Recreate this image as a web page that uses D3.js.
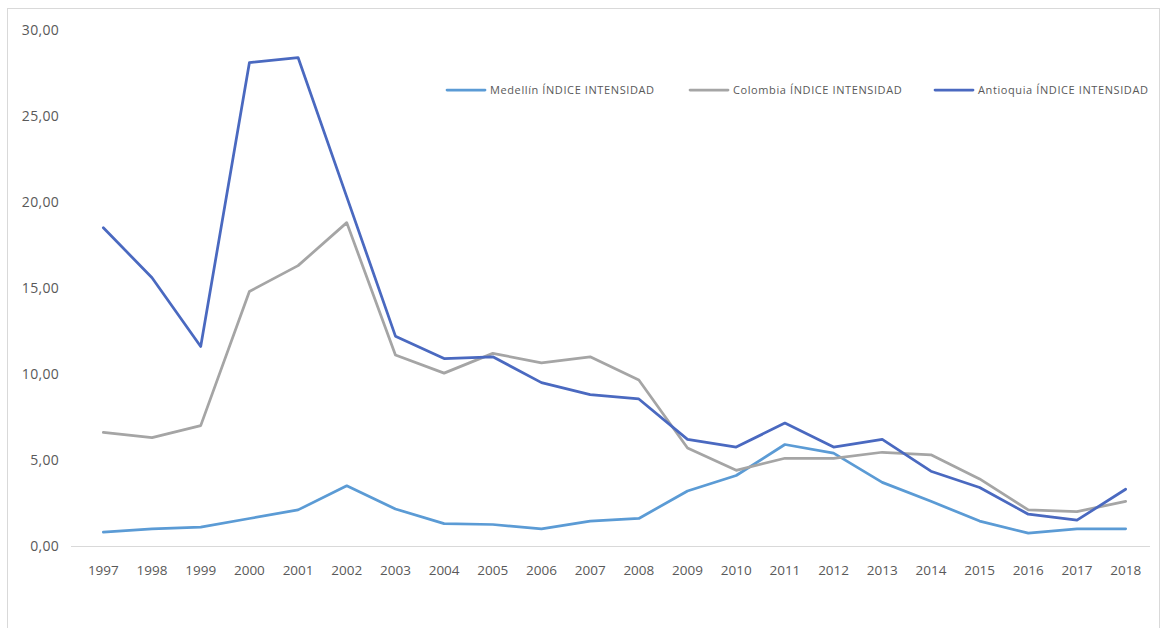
<!DOCTYPE html>
<html>
<head>
<meta charset="utf-8">
<script src="https://cdn.jsdelivr.net/npm/d3@7"></script>
<style>
  html, body { margin: 0; padding: 0; background: #fff; }
  svg { display: block; }
</style>
</head>
<body>
<svg id="chart" width="1161" height="628"></svg>
<script>
// Índice de intensidad por año
const years = ["1997","1998","1999","2000","2001","2002","2003","2004","2005","2006","2007",
               "2008","2009","2010","2011","2012","2013","2014","2015","2016","2017","2018"];

const medellin  = [0.80, 1.00, 1.10, 1.60, 2.10, 3.50, 2.15, 1.30, 1.25, 1.00, 1.45,
                   1.60, 3.20, 4.10, 5.90, 5.40, 3.70, 2.60, 1.45, 0.75, 1.00, 1.00];
const colombia  = [6.60, 6.30, 7.00, 14.80, 16.30, 18.80, 11.10, 10.05, 11.20, 10.65, 11.00,
                   9.65, 5.70, 4.40, 5.10, 5.10, 5.45, 5.30, 3.90, 2.10, 2.00, 2.60];
const antioquia = [18.50, 15.60, 11.60, 28.10, 28.40, 20.30, 12.20, 10.90, 11.00, 9.50, 8.80,
                   8.55, 6.20, 5.75, 7.15, 5.75, 6.20, 4.35, 3.40, 1.85, 1.50, 3.30];

const yTicks = [0, 5, 10, 15, 20, 25, 30];

const seriesNames = ["Medellín ÍNDICE INTENSIDAD", "Colombia ÍNDICE INTENSIDAD", "Antioquia ÍNDICE INTENSIDAD"];
const seriesColors = ["#5B9BD5", "#A5A5A5", "#4A69C0"];
const seriesValues = [medellin, colombia, antioquia];

const svg = d3.select("#chart");
const font = "'Open Sans', 'Liberation Sans', sans-serif";

// chart frame
svg.append("rect")
  .attr("x", 7.5).attr("y", 8.5)
  .attr("width", 1152).attr("height", 640)
  .attr("fill", "#fff")
  .attr("stroke", "#d9d9d9").attr("stroke-width", 1);

const plot = { left: 79, right: 1150, top: 30, bottom: 546 };

const x = d3.scaleBand().domain(years).range([plot.left, plot.right]);
const y = d3.scaleLinear().domain([0, 30]).range([plot.bottom, plot.top]);
const cx = d => x(d) + x.bandwidth() / 2;

// y axis labels (no line, no ticks)
const yAxis = d3.axisLeft(y)
  .tickValues(yTicks)
  .tickSize(0)
  .tickPadding(0)
  .tickFormat(v => d3.format(".2f")(v).replace(".", ","));
const gy = svg.append("g").attr("transform", "translate(59,0)").call(yAxis);
gy.select(".domain").remove();
gy.selectAll("text")
  .attr("font-family", font).attr("font-size", 14).attr("fill", "#595959")
  .attr("letter-spacing", "0.3px");

// category axis
const xAxis = d3.axisBottom(x).tickSize(0).tickPadding(19);
const gx = svg.append("g").attr("transform", `translate(0,${plot.bottom})`).call(xAxis);
gx.select(".domain")
  .attr("stroke", "#d9d9d9").attr("stroke-width", 1)
  .attr("d", `M${plot.left - 8},0.5H${plot.right}`);
gx.selectAll("text")
  .attr("font-family", font).attr("font-size", 13.5).attr("fill", "#595959");

// series lines
const line = d3.line()
  .x((d, i) => cx(years[i]))
  .y(d => y(d));

seriesValues.forEach((vals, k) => {
  svg.append("path")
    .datum(vals)
    .attr("fill", "none")
    .attr("stroke", seriesColors[k])
    .attr("stroke-width", 2.75)
    .attr("stroke-linejoin", "round")
    .attr("stroke-linecap", "round")
    .attr("d", line);
});

// legend
const legendX = [447, 690, 935];
const legend = svg.append("g").attr("transform", "translate(0,90)");
seriesNames.forEach((name, k) => {
  const g = legend.append("g").attr("transform", `translate(${legendX[k]},0)`);
  g.append("line")
    .attr("x1", 0).attr("x2", 38).attr("y1", 0).attr("y2", 0)
    .attr("stroke", seriesColors[k]).attr("stroke-width", 2.75)
    .attr("stroke-linecap", "round");
  g.append("text")
    .attr("x", 43).attr("y", 0).attr("dy", "0.35em")
    .attr("font-family", font).attr("font-size", 11)
    .attr("letter-spacing", "0.6px")
    .attr("fill", "#595959")
    .text(name);
});
</script>
</body>
</html>
